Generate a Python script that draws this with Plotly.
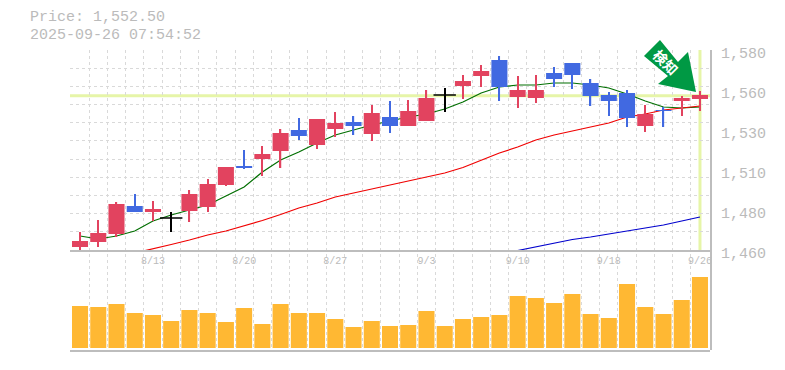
import plotly.graph_objects as go

W, H = 785, 370

dates = ["8/6","8/7","8/8","8/12","8/13","8/14","8/15","8/18","8/19","8/20",
         "8/21","8/22","8/25","8/26","8/27","8/28","8/29","9/1","9/2","9/3",
         "9/4","9/5","9/8","9/9","9/10","9/11","9/12","9/16","9/17","9/18",
         "9/19","9/22","9/24","9/25","9/26"]
date_ticks = ["8/13","8/20","8/27","9/3","9/10","9/18","9/26"]

opens = [1461.8,1464.8,1469.6,1486.4,1482.8,1479.2,1483.4,1485.8,1499.0,1510.4,
         1514.6,1519.4,1532.0,1523.0,1532.6,1536.8,1529.6,1539.8,1534.4,1537.4,
         1553.0,1558.4,1564.4,1574.0,1551.8,1551.2,1566.2,1572.2,1560.2,1553.0,
         1554.2,1534.4,1544.0,1549.4,1550.6]
closes = [1465.4,1470.2,1487.6,1482.8,1484.6,1479.2,1493.6,1499.6,1509.8,1509.2,
          1517.6,1530.2,1528.4,1538.6,1536.2,1534.4,1542.2,1534.4,1543.4,1551.2,
          1553.0,1561.4,1567.4,1557.8,1556.0,1556.0,1562.6,1565.0,1552.4,1549.4,
          1539.2,1541.6,1543.4,1551.2,1553.0]
highs = [1470.8,1478.0,1488.8,1493.6,1489.4,1482.8,1496.0,1502.6,1509.8,1520.0,
         1522.4,1532.6,1539.2,1538.6,1542.8,1540.4,1547.0,1549.4,1550.0,1556.0,
         1557.2,1565.0,1571.0,1576.4,1564.4,1565.0,1569.8,1572.2,1562.6,1554.8,
         1556.0,1547.0,1545.8,1552.4,1555.4]
lows = [1459.6,1461.8,1467.8,1482.8,1477.4,1470.8,1476.8,1482.8,1498.4,1508.6,
        1504.4,1509.2,1526.0,1520.6,1527.8,1529.0,1525.4,1530.2,1534.4,1537.4,
        1542.8,1550.6,1557.8,1549.4,1545.2,1548.2,1557.8,1556.6,1546.4,1540.4,
        1533.8,1530.8,1533.8,1540.4,1543.4]
ma_short = [1468.4,1466.6,1468.4,1471.4,1477.4,1481.0,1484.0,1487.0,1492.4,1497.8,
            1506.8,1514.0,1518.8,1524.2,1529.0,1532.0,1535.0,1537.4,1539.8,1541.6,
            1544.6,1548.8,1554.2,1557.8,1559.0,1559.0,1560.2,1560.2,1559.0,1557.2,
            1553.6,1549.4,1545.8,1545.2,1545.8]
ma_mid = [1458.2,1460.6,1463.3,1466.0,1469.0,1471.4,1474.4,1477.7,1481.3,1485.2,
          1488.2,1491.8,1494.2,1496.6,1499.0,1501.4,1503.8,1506.2,1509.5,1514.0,
          1518.2,1521.8,1526.0,1529.0,1531.4,1533.8,1536.2,1539.8,1541.6,1544.0,
          1545.2,1546.4]
ma_long = [1459.7,1461.8,1464.2,1466.3,1467.8,1469.6,1471.4,1473.2,1475.0,1477.4,1479.8]
volume = [42,41,44,35,33,27,38,35,26,40,24,44,35,35,29,21,27,22,
          23,37,22,29,31,33,52,50,45,54,34,30,64,41,34,48,71]
price_now = 1552.50
price_label = "Price: 1,552.50"
time_label = "2025-09-26 07:54:52"
y_ticks = [1580, 1556, 1532, 1508, 1484, 1460]
y_tick_labels = ["1,580", "1,560", "1,530", "1,510", "1,480", "1,460"]
y_min, y_max = 1460, 1580
grid_steps = 11

GRID = "#d9d9d9"
AXIS = "#bdbdbd"
TEXT = "#bbbbbb"
UP = "#e2435f"
DOWN = "#4169e1"
DOJI = "#000000"
HL = "#e6f5a8"
MONO = "Liberation Mono, monospace"

def py(p):
    return 1 - p / H
def px(p):
    return p / W

x_range = [-0.55, 34.55]

def candle_color(o, c):
    return DOJI if o == c else (UP if c > o else DOWN)

colors = [candle_color(o, c) for o, c in zip(opens, closes)]
body_dates = [d for d, o, c in zip(dates, opens, closes) if o != c]
body_base = [min(o, c) for o, c in zip(opens, closes) if o != c]
body_size = [abs(c - o) for o, c in zip(opens, closes) if o != c]
body_colors = [k for k, o, c in zip(colors, opens, closes) if o != c]
doji_dates = [d for d, o, c in zip(dates, opens, closes) if o == c]
doji_vals = [o for o, c in zip(opens, closes) if o == c]

fig = go.Figure()

# full-height axis carrying the vertical dashed grid and right border
fig.add_trace(go.Scatter(x=dates, y=[0] * len(dates), xaxis="x", yaxis="y3", mode="lines",
                         line=dict(width=0), opacity=0, hoverinfo="skip", showlegend=False))

# moving averages (kept on the labelled price axes, under the candles)
for xs, ys, col in [(dates, ma_short, "#006f00"),
                    (dates[3:], ma_mid, "#f00000"),
                    (dates[24:], ma_long, "#0000cd")]:
    fig.add_trace(go.Scatter(x=xs, y=ys, xaxis="x2", yaxis="y", mode="lines", cliponaxis=False,
                             line=dict(color=col, width=1.2), showlegend=False))

# candle wicks, on an identical overlay subplot drawn above the moving averages
fig.add_trace(go.Bar(x=dates, base=lows, y=[h - l for h, l in zip(highs, lows)], xaxis="x4", yaxis="y4",
                     width=0.07, marker=dict(color=colors, line=dict(width=0)), showlegend=False))
# candle bodies
fig.add_trace(go.Bar(x=body_dates, base=body_base, y=body_size, xaxis="x4", yaxis="y4",
                     width=0.88, marker=dict(color=body_colors, line=dict(width=0)), showlegend=False))
# doji bodies
fig.add_trace(go.Scatter(x=doji_dates, y=doji_vals, xaxis="x4", yaxis="y4", mode="markers",
                         marker=dict(symbol="line-ew-open", size=16, color=DOJI, line=dict(color=DOJI, width=1.5)),
                         showlegend=False))

# volume
fig.add_trace(go.Bar(x=dates, y=volume, xaxis="x3", yaxis="y2", marker=dict(color="#ffb833", line=dict(width=0)),
                     width=0.88, showlegend=False))

grid_vals = [y_min + (y_max - y_min) * i / grid_steps for i in range(grid_steps + 1)]

arrow_pts = [(660, 40), (644, 56), (668, 76), (658, 84), (696, 92), (688, 52), (678, 62)]
arrow_path = "M " + " L ".join(f"{px(a):.5f} {py(b):.5f}" for a, b in arrow_pts) + " Z"

common_x = dict(type="category", categoryarray=dates, categoryorder="array", range=x_range,
                domain=[px(70), px(710)], fixedrange=True)

fig.update_layout(
    width=W, height=H,
    margin=dict(l=0, r=0, t=0, b=0, autoexpand=False),
    paper_bgcolor="white", plot_bgcolor="rgba(0,0,0,0)",
    barmode="overlay",
    showlegend=False,
    xaxis=dict(common_x, anchor="y3", tickson="boundaries", dtick=1, showgrid=True, gridcolor=GRID,
               griddash="3px,3px", gridwidth=1, showticklabels=False, ticks="", showline=False, zeroline=False),
    xaxis2=dict(common_x, anchor="y", tickvals=date_ticks, ticktext=date_ticks, showgrid=False,
                showline=True, linecolor=AXIS, linewidth=2, ticks="",
                tickfont=dict(family=MONO, size=10, color=TEXT)),
    xaxis3=dict(common_x, anchor="y2", showgrid=False, showticklabels=False, ticks="",
                showline=True, linecolor=AXIS, linewidth=2),
    xaxis4=dict(common_x, anchor="y4", visible=False),
    yaxis=dict(domain=[py(250), py(50)], range=[y_min, y_max], anchor="x2", side="right",
               tickvals=y_ticks, ticktext=y_tick_labels, ticks="", showgrid=False, zeroline=False,
               ticklabelstandoff=10, ticklabelshift=3, fixedrange=True,
               tickfont=dict(family=MONO, size=15, color=TEXT),
               minor=dict(tickvals=grid_vals, showgrid=True, gridcolor=GRID, griddash="3px,3px",
                          gridwidth=1, ticks="")),
    yaxis2=dict(domain=[py(350), py(277)], range=[-2, 71], anchor="x3", showgrid=False, zeroline=False,
                showticklabels=False, ticks="", fixedrange=True),
    yaxis3=dict(domain=[py(350), py(50)], range=[0, 1], anchor="x", side="right", showgrid=False,
                zeroline=False, showticklabels=False, ticks="", showline=True, linecolor=AXIS,
                linewidth=2, fixedrange=True),
    yaxis4=dict(domain=[py(250), py(50)], range=[y_min, y_max], anchor="x4", visible=False, fixedrange=True),
    shapes=[
        dict(type="line", xref="x2 domain", yref="y", x0=0, x1=1, y0=price_now, y1=price_now,
             line=dict(color=HL, width=3), layer="below"),
        dict(type="line", xref="x2", yref="y", x0=dates[-1], x1=dates[-1], y0=y_min, y1=y_max,
             line=dict(color=HL, width=3), layer="below"),
        dict(type="path", xref="paper", yref="paper", path=arrow_path,
             fillcolor="#009944", line=dict(width=0), layer="above"),
    ],
    annotations=[
        dict(text=price_label, xref="paper", yref="paper", x=px(28), y=py(18), xanchor="left", yanchor="middle",
             showarrow=False, font=dict(family=MONO, size=15, color=TEXT)),
        dict(text=time_label, xref="paper", yref="paper", x=px(28), y=py(35), xanchor="left", yanchor="middle",
             showarrow=False, font=dict(family=MONO, size=15, color=TEXT)),
        dict(text="<b>検知</b>", xref="paper", yref="paper", x=px(666), y=py(62), xanchor="center", yanchor="middle",
             showarrow=False, textangle=45, font=dict(family="Noto Sans CJK JP", size=14, color="white")),
    ],
)

fig.write_html("out.html", config=dict(displayModeBar=False),
               post_script="document.body.style.margin='0';")
